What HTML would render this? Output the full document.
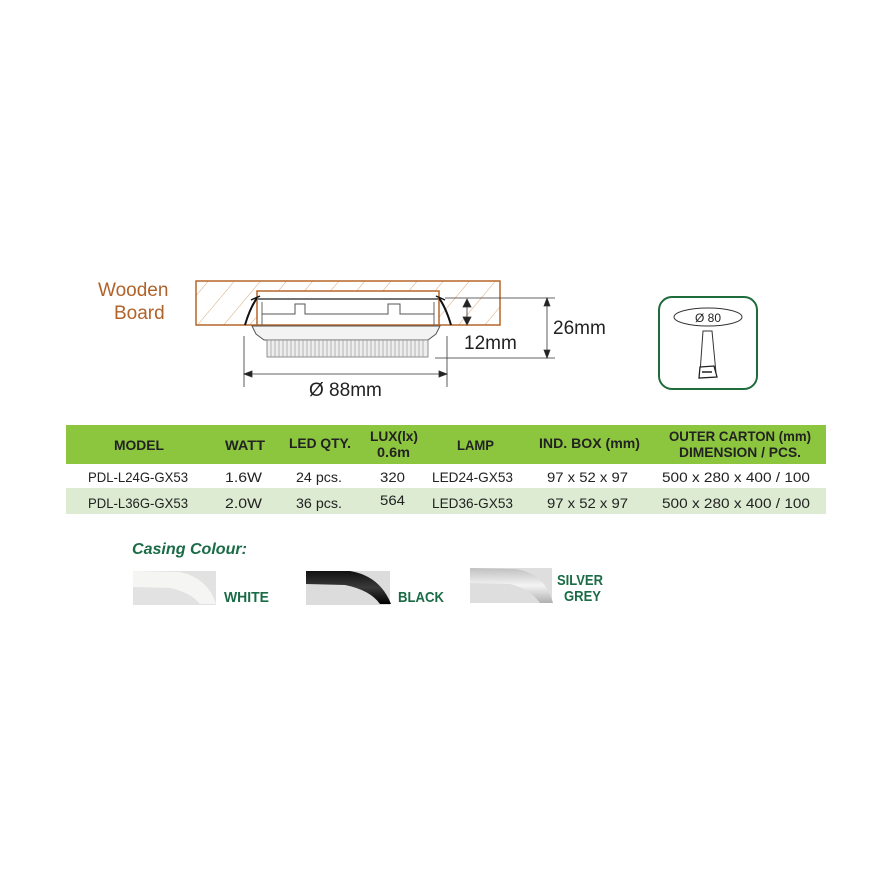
<!DOCTYPE html>
<html><head><meta charset="utf-8"><style>
html,body{margin:0;padding:0;background:#fff;width:886px;height:886px;overflow:hidden}
text{font-family:"Liberation Sans",sans-serif}
</style></head><body>
<svg width="886" height="886" viewBox="0 0 886 886" xmlns="http://www.w3.org/2000/svg">
<defs>
<pattern id="h" width="20" height="20" patternUnits="userSpaceOnUse" patternTransform="rotate(40)">
<line x1="0" y1="0" x2="0" y2="20" stroke="#d9a77a" stroke-width="1"/>
</pattern>
<linearGradient id="sv" x1="0" y1="0" x2="0" y2="1"><stop offset="0" stop-color="#c0c0c0"/><stop offset="0.5" stop-color="#f4f4f4"/><stop offset="1" stop-color="#b0b0b0"/></linearGradient>
<linearGradient id="bl" x1="0" y1="0" x2="0" y2="1"><stop offset="0" stop-color="#111"/><stop offset="0.5" stop-color="#3a3a3a"/><stop offset="1" stop-color="#000"/></linearGradient>
</defs>

<text x="98" y="296" font-size="19" fill="#b0632a">Wooden</text>
<text x="114" y="319" font-size="19" fill="#b0632a">Board</text>
<rect x="196" y="281" width="304" height="44" fill="url(#h)" stroke="#b5662a" stroke-width="1.5"/>
<rect x="257" y="291" width="182" height="34" fill="#fff" stroke="#b5662a" stroke-width="1.5"/>
<path d="M258 299 L438 299" stroke="#222" stroke-width="1.2"/>
<path d="M262 302 L262 325 M434 302 L434 325" stroke="#666" stroke-width="1"/>
<path d="M262 314 L295 314 L295 304 L305 304 L305 314 L388 314 L388 304 L400 304 L400 314 L434 314" stroke="#555" stroke-width="1" fill="none"/>
<path d="M257 298 Q250 308 245 325 M439 298 Q446 308 451 325" stroke="#111" stroke-width="2" fill="none"/>
<path d="M251 300 L260 296 M445 300 L436 296" stroke="#111" stroke-width="1.5"/>
<path d="M252 326 L440 326 L436 334 L428 340 L264 340 L256 334 Z" fill="#f3f3f3" stroke="#555" stroke-width="1"/>
<rect x="267" y="340" width="161" height="17" fill="#eee" stroke="#777" stroke-width="0.8"/>
<g stroke="#999" stroke-width="0.7">
<path d="M271 340v17M275 340v17M279 340v17M283 340v17M287 340v17M291 340v17M295 340v17M299 340v17M303 340v17M307 340v17M311 340v17M315 340v17M319 340v17M323 340v17M327 340v17M331 340v17M335 340v17M339 340v17M343 340v17M347 340v17M351 340v17M355 340v17M359 340v17M363 340v17M367 340v17M371 340v17M375 340v17M379 340v17M383 340v17M387 340v17M391 340v17M395 340v17M399 340v17M403 340v17M407 340v17M411 340v17M415 340v17M419 340v17M423 340v17"/>
</g>
<g stroke="#333" stroke-width="0.8" fill="#222">
<line x1="244" y1="336" x2="244" y2="387"/>
<line x1="447" y1="336" x2="447" y2="387"/>
<line x1="247" y1="374" x2="444" y2="374"/>
<path d="M244 374 l8 -3 v6z M447 374 l-8 -3 v6z"/>
<line x1="445" y1="298" x2="555" y2="298"/>
<line x1="435" y1="358" x2="555" y2="358"/>
<line x1="547" y1="300" x2="547" y2="356"/>
<path d="M547 298 l-3 8 h6z M547 358 l-3 -8 h6z"/>
<line x1="467" y1="301" x2="467" y2="323"/>
<path d="M467 299 l-4 8 h8z M467 325 l-4 -8 h8z"/>
</g>
<text x="309" y="396" font-size="19" fill="#222">Ø 88mm</text>
<text x="464" y="349" font-size="19" fill="#222">12mm</text>
<text x="553" y="334" font-size="19" fill="#222">26mm</text>

<rect x="659" y="297" width="98" height="92" rx="13" fill="#fff" stroke="#1e6b3c" stroke-width="2"/>
<ellipse cx="708" cy="317" rx="34" ry="9" fill="#fff" stroke="#333" stroke-width="1"/>
<text x="708" y="322" font-size="12" fill="#222" text-anchor="middle">Ø 80</text>
<path d="M706 331 L712 331 L716 373 L700 373 L703 331 Z" fill="#fff" stroke="#333" stroke-width="1"/>
<path d="M700 367 L714 366 L717 377 L699 378 Z" fill="#fff" stroke="#222" stroke-width="1.3"/>
<path d="M702 372 L712 372" stroke="#222" stroke-width="1.5"/>

<rect x="66" y="425" width="760" height="39" fill="#8cc63f"/>
<rect x="66" y="488" width="760" height="26" fill="#dcebd2"/>
<g font-weight="bold" font-size="14" fill="#222">
<text x="114" y="450" textLength="50" lengthAdjust="spacingAndGlyphs">MODEL</text>
<text x="225" y="450" textLength="40" lengthAdjust="spacingAndGlyphs">WATT</text>
<text x="289" y="448" textLength="62" lengthAdjust="spacingAndGlyphs">LED QTY.</text>
<text x="370" y="441" textLength="48" lengthAdjust="spacingAndGlyphs">LUX(lx)</text>
<text x="377" y="457" textLength="33" lengthAdjust="spacingAndGlyphs">0.6m</text>
<text x="457" y="450" textLength="37" lengthAdjust="spacingAndGlyphs">LAMP</text>
<text x="539" y="448" textLength="101" lengthAdjust="spacingAndGlyphs">IND. BOX (mm)</text>
<text x="669" y="441" textLength="142" lengthAdjust="spacingAndGlyphs">OUTER CARTON (mm)</text>
<text x="679" y="457" textLength="122" lengthAdjust="spacingAndGlyphs">DIMENSION / PCS.</text>
</g>
<g font-size="14" fill="#222">
<text x="88" y="482" textLength="100" lengthAdjust="spacingAndGlyphs">PDL-L24G-GX53</text>
<text x="225" y="482" textLength="37" lengthAdjust="spacingAndGlyphs">1.6W</text>
<text x="296" y="482" textLength="46" lengthAdjust="spacingAndGlyphs">24 pcs.</text>
<text x="380" y="482" textLength="25" lengthAdjust="spacingAndGlyphs">320</text>
<text x="432" y="482" textLength="81" lengthAdjust="spacingAndGlyphs">LED24-GX53</text>
<text x="547" y="482" textLength="81" lengthAdjust="spacingAndGlyphs">97 x 52 x 97</text>
<text x="662" y="482" textLength="148" lengthAdjust="spacingAndGlyphs">500 x 280 x 400 / 100</text>
<text x="88" y="508" textLength="100" lengthAdjust="spacingAndGlyphs">PDL-L36G-GX53</text>
<text x="225" y="508" textLength="37" lengthAdjust="spacingAndGlyphs">2.0W</text>
<text x="296" y="508" textLength="46" lengthAdjust="spacingAndGlyphs">36 pcs.</text>
<text x="380" y="505" textLength="25" lengthAdjust="spacingAndGlyphs">564</text>
<text x="432" y="508" textLength="81" lengthAdjust="spacingAndGlyphs">LED36-GX53</text>
<text x="547" y="508" textLength="81" lengthAdjust="spacingAndGlyphs">97 x 52 x 97</text>
<text x="662" y="508" textLength="148" lengthAdjust="spacingAndGlyphs">500 x 280 x 400 / 100</text>
</g>

<text x="132" y="554" font-size="16" font-weight="bold" font-style="italic" fill="#1b6b47" textLength="115" lengthAdjust="spacingAndGlyphs">Casing Colour:</text>
<rect x="133" y="571" width="83" height="34" fill="#e2e2e2"/>
<path d="M133 571 L180 572 Q208 578 216 604 L200 604 Q190 592 170 588 L133 587 Z" fill="#f5f5f3"/>
<rect x="306" y="571" width="84" height="34" fill="#dcdcdc"/>
<path d="M306 571 L350 571 Q380 576 391 604 L380 604 Q370 590 345 585 L306 584 Z" fill="url(#bl)"/>
<rect x="470" y="568" width="82" height="35" fill="#dedede"/>
<path d="M470 568 L515 569 Q545 573 553 603 L540 603 Q530 589 510 584 L470 583 Z" fill="url(#sv)"/>
<g font-weight="bold" font-size="15" fill="#1b6b47">
<text x="224" y="602" textLength="45" lengthAdjust="spacingAndGlyphs">WHITE</text>
<text x="398" y="602" textLength="46" lengthAdjust="spacingAndGlyphs">BLACK</text>
<text x="557" y="585" textLength="46" lengthAdjust="spacingAndGlyphs">SILVER</text>
<text x="564" y="601" textLength="37" lengthAdjust="spacingAndGlyphs">GREY</text>
</g>
</svg>
</body></html>
